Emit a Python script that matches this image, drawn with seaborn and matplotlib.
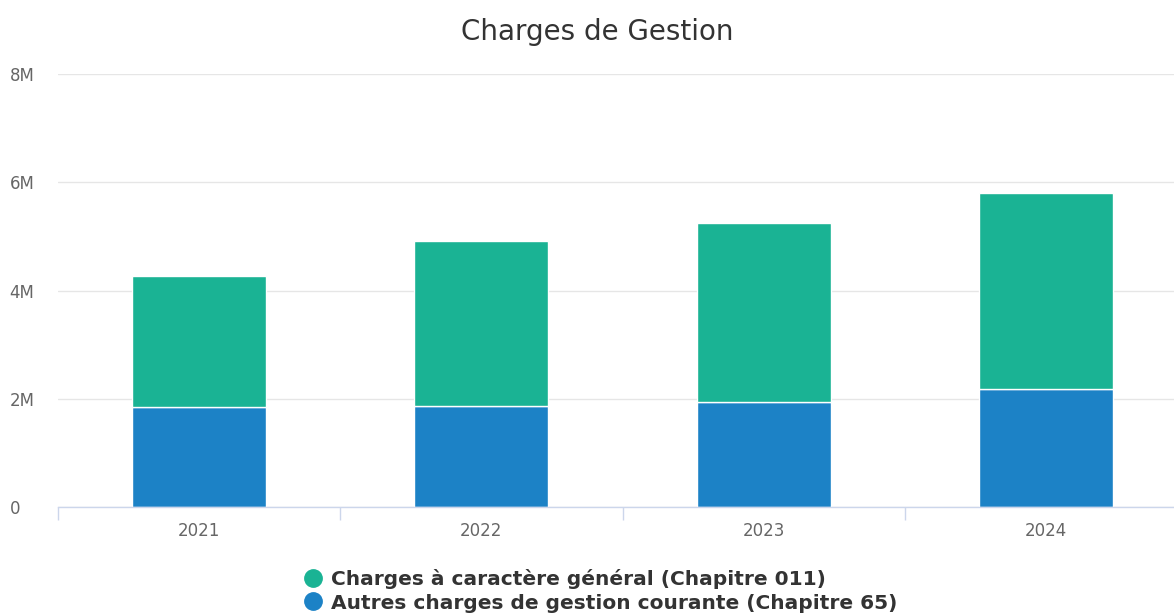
import numpy as np
import pandas as pd
import seaborn as sns
import matplotlib.pyplot as plt
from matplotlib.ticker import FuncFormatter, FixedLocator
from matplotlib.lines import Line2D

years = ["2021", "2022", "2023", "2024"]
# Autres charges de gestion courante (Chapitre 65)
autres = [1.85e6, 1.87e6, 1.94e6, 2.18e6]
# Charges à caractère général (Chapitre 011)
generales = [2.42e6, 3.05e6, 3.30e6, 3.62e6]

lab_gen = "Charges à caractère général (Chapitre 011)"
lab_aut = "Autres charges de gestion courante (Chapitre 65)"
green = "#1ab394"
blue = "#1c82c6"

df = pd.DataFrame({"annee": years, "autres": autres, "generales": generales})

sns.set_style("white")
plt.rcParams["font.family"] = ["DejaVu Sans"]

fig = plt.figure(figsize=(11.74, 6.15), dpi=100)
ax = fig.add_axes([58 / 1174, 1 - 507 / 615, 1129 / 1174, (507 - 74) / 615])

sns.barplot(data=df, x="annee", y="autres", color=blue, width=0.475,
            edgecolor="white", linewidth=1, saturation=1, ax=ax)
sns.barplot(data=df, x="annee", y="generales", bottom=df["autres"], color=green,
            width=0.475, edgecolor="white", linewidth=1, saturation=1, ax=ax)

ax.set_xlim(-0.5, 3.5)
ax.set_ylim(0, 8e6)
ax.set_yticks([0, 2e6, 4e6, 6e6, 8e6])
ax.yaxis.set_major_formatter(FuncFormatter(lambda v, p: "0" if v == 0 else f"{int(v / 1e6)}M"))
ax.grid(axis="y", color="#e6e6e6", linewidth=1)
ax.set_axisbelow(True)
ax.set_xlabel("")
ax.set_ylabel("")

for s in ["top", "right", "left"]:
    ax.spines[s].set_visible(False)
ax.spines["bottom"].set_color("#ccd6eb")
ax.spines["bottom"].set_linewidth(1)

ax.tick_params(axis="y", length=0, pad=35, labelsize=12, labelcolor="#666666")
for t in ax.get_yticklabels():
    t.set_horizontalalignment("left")
ax.tick_params(axis="x", which="major", length=0, pad=11, labelsize=12, labelcolor="#666666")
ax.xaxis.set_minor_locator(FixedLocator([-0.5, 0.5, 1.5, 2.5, 3.5]))
ax.tick_params(axis="x", which="minor", bottom=True, length=9.5, width=1, color="#ccd6eb")

fig.suptitle("Charges de Gestion", x=0.509, y=0.97, fontsize=20, color="#333333")

handles = [
    Line2D([], [], marker="o", linestyle="", markersize=12.5, color=green),
    Line2D([], [], marker="o", linestyle="", markersize=12.5, color=blue),
]
fig.legend(handles, [lab_gen, lab_aut], loc="upper center", bbox_to_anchor=(0.511, 0.074),
           frameon=False, ncol=1, prop={"size": 14.5, "weight": "bold"},
           labelcolor="#333333", handletextpad=0.4, labelspacing=0.2,
           borderaxespad=0, borderpad=0, handlelength=1)

fig.savefig("out.png", dpi=100)
